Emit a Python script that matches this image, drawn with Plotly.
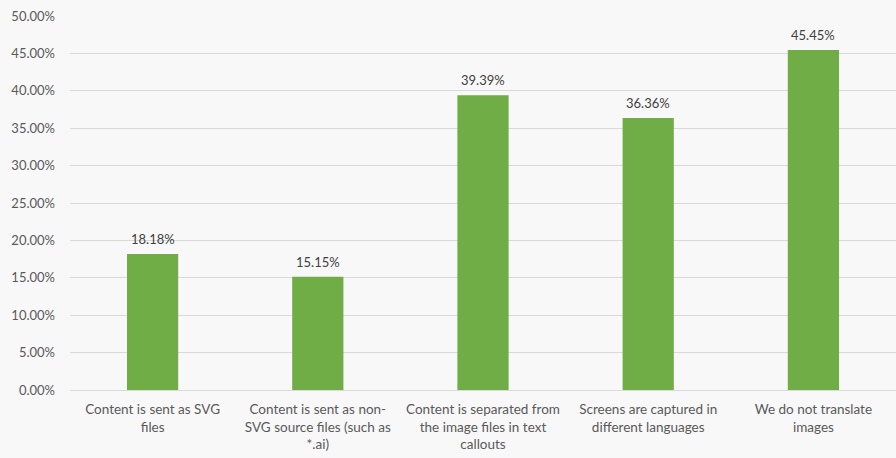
import plotly.graph_objects as go

categories = [
    "Content is sent as SVG<br>files",
    "Content is sent as non-<br>SVG source files (such as<br>*.ai)",
    "Content is separated from<br>the image files in text<br>callouts",
    "Screens are captured in<br>different languages",
    "We do not translate<br>images",
]
values = [18.18, 15.15, 39.39, 36.36, 45.45]
tick_vals = [0, 5, 10, 15, 20, 25, 30, 35, 40, 45, 50]
tick_text = [f"{v:.2f}%" for v in tick_vals]

font_family = "Lato, Open Sans, sans-serif"
text_color = "#595959"
bg = "#f8f8f8"

fig = go.Figure(
    go.Bar(
        x=categories,
        y=values,
        marker=dict(color="#70ad47", line=dict(width=0)),
        width=0.31,
        cliponaxis=False,
    )
)

# value labels above each bar
for cat, val in zip(categories, values):
    fig.add_annotation(
        x=cat,
        y=val,
        text=f"{val:.2f}%",
        showarrow=False,
        yanchor="bottom",
        yshift=5,
        font=dict(size=13, color="#404040", family=font_family),
    )

fig.update_layout(
    width=896,
    height=458,
    margin=dict(l=70, r=0, t=16, b=68),
    paper_bgcolor=bg,
    plot_bgcolor=bg,
    showlegend=False,
    font=dict(family=font_family, size=13, color=text_color),
    bargap=0.69,
)
fig.update_xaxes(
    showgrid=False,
    showline=True,
    linecolor="#d9d9d9",
    linewidth=1,
    ticks="",
    ticklabelstandoff=7,
    tickfont=dict(size=13.5, color=text_color),
    fixedrange=True,
)
fig.update_yaxes(
    range=[0, 50],
    tickvals=tick_vals,
    ticktext=tick_text,
    showgrid=True,
    gridcolor="#d9d9d9",
    gridwidth=1,
    zeroline=False,
    showline=False,
    ticks="",
    ticklabelstandoff=14,
    tickfont=dict(size=13, color=text_color),
    fixedrange=True,
)

fig.write_html("out.html")
